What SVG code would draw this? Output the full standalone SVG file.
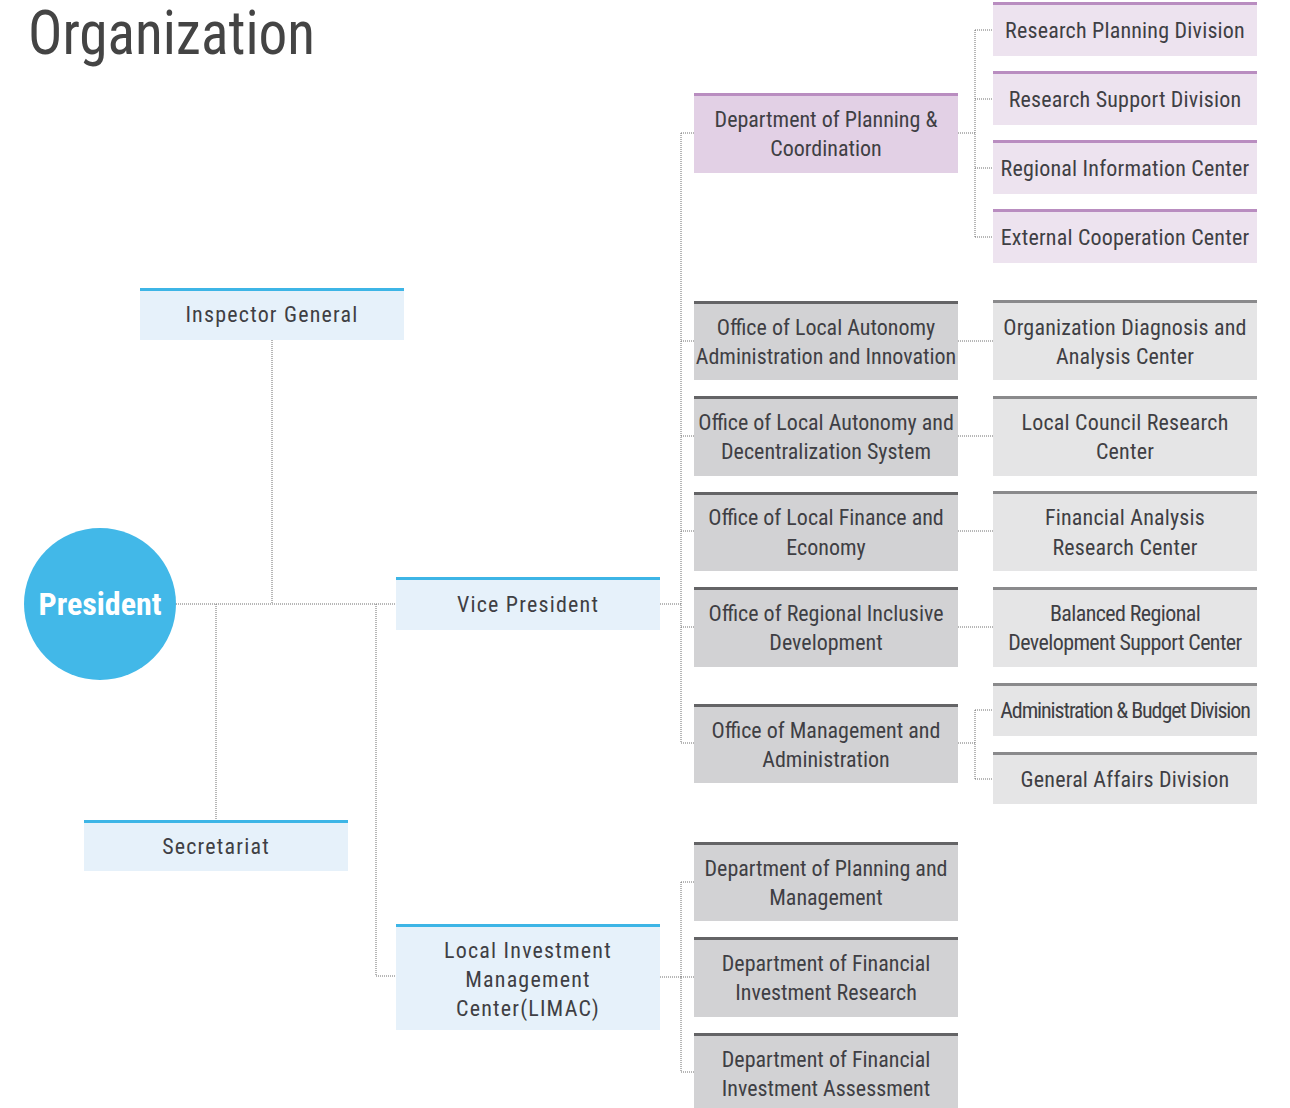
<svg xmlns="http://www.w3.org/2000/svg" width="1290" height="1108" viewBox="0 0 1290 1108">
<style>
text{font-family:"Liberation Sans Narrow","Roboto Condensed","Liberation Sans",sans-serif;fill:#3f3f44;text-anchor:middle;font-size:22px}
.title{font-size:62px;text-anchor:start;fill:#444}
.pres{font-size:32px;font-weight:bold;fill:#fff}
.blue{fill:#e6f1fa}
.bluetop{fill:#3db5e6}
.pm{fill:#e2d0e5}
.pl{fill:#ede3ef}
.ptop{fill:#b98dc0}
.gm{fill:#d2d2d4}
.gmtop{fill:#646466}
.gl{fill:#e5e5e6}
.gltop{fill:#8a8a8c}
.sp{letter-spacing:1.2px}
.rs{letter-spacing:0.2px}
.cd{letter-spacing:-0.6px}
.cd2{letter-spacing:-1.1px}
#connectors path{fill:none;stroke:#6e6e6e;stroke-width:1;stroke-dasharray:1 1}
</style>
<text class="title" x="28" y="54" textLength="287" lengthAdjust="spacingAndGlyphs">Organization</text>
<g id="connectors">
<path d="M176 604H396"/>
<path d="M272 340V604"/>
<path d="M216 604V820"/>
<path d="M376 604V976H396"/>
<path d="M660 604H681"/>
<path d="M681 133V743"/>
<path d="M681 133H694M681 341H694M681 436H694M681 531H694M681 627H694M681 743H694"/>
<path d="M958 133H975M975 30V237M975 30H993M975 99H993M975 168H993M975 237H993"/>
<path d="M958 341H993M958 436H993M958 531H993M958 627H993"/>
<path d="M958 743H975M975 710V779M975 710H993M975 779H993"/>
<path d="M660 977H681M681 882V1072M681 882H694M681 977H694M681 1072H694"/>
</g>
<g id="president"><circle cx="100" cy="604" r="76" fill="#42b8e8"/><text class="pres" x="100" y="615">President</text></g>
<g id="inspector"><rect class="blue" x="140" y="288" width="264" height="52"/><rect class="bluetop" x="140" y="288" width="264" height="3"/><text class="sp" x="272" y="322">Inspector General</text></g>
<g id="secretariat"><rect class="blue" x="84" y="820" width="264" height="51"/><rect class="bluetop" x="84" y="820" width="264" height="3"/><text class="sp" x="216" y="854">Secretariat</text></g>
<g id="vp"><rect class="blue" x="396" y="577" width="264" height="53"/><rect class="bluetop" x="396" y="577" width="264" height="3"/><text class="sp" x="528" y="612">Vice President</text></g>
<g id="limac"><rect class="blue" x="396" y="924" width="264" height="106"/><rect class="bluetop" x="396" y="924" width="264" height="3"/><text class="sp" x="528" y="958">Local Investment</text><text class="sp" x="528" y="987">Management</text><text class="sp" x="528" y="1016">Center(LIMAC)</text></g>
<g id="dpc"><rect class="pm" x="694" y="93" width="264" height="80"/><rect class="ptop" x="694" y="93" width="264" height="3"/><text x="826" y="127">Department of Planning &amp;</text><text x="826" y="156">Coordination</text></g>
<g id="olaai"><rect class="gm" x="694" y="301" width="264" height="79"/><rect class="gmtop" x="694" y="301" width="264" height="3"/><text x="826" y="335">Office of Local Autonomy</text><text x="826" y="364">Administration and Innovation</text></g>
<g id="oladc"><rect class="gm" x="694" y="396" width="264" height="80"/><rect class="gmtop" x="694" y="396" width="264" height="3"/><text x="826" y="430">Office of Local Autonomy and</text><text x="826" y="459">Decentralization System</text></g>
<g id="olfe"><rect class="gm" x="694" y="492" width="264" height="79"/><rect class="gmtop" x="694" y="492" width="264" height="3"/><text x="826" y="525">Office of Local Finance and</text><text x="826" y="555">Economy</text></g>
<g id="orid"><rect class="gm" x="694" y="587" width="264" height="80"/><rect class="gmtop" x="694" y="587" width="264" height="3"/><text x="826" y="621">Office of Regional Inclusive</text><text x="826" y="650">Development</text></g>
<g id="oma"><rect class="gm" x="694" y="704" width="264" height="79"/><rect class="gmtop" x="694" y="704" width="264" height="3"/><text x="826" y="738">Office of Management and</text><text x="826" y="767">Administration</text></g>
<g id="dpm"><rect class="gm" x="694" y="842" width="264" height="79"/><rect class="gmtop" x="694" y="842" width="264" height="3"/><text x="826" y="876">Department of Planning and</text><text x="826" y="905">Management</text></g>
<g id="dfir"><rect class="gm" x="694" y="937" width="264" height="80"/><rect class="gmtop" x="694" y="937" width="264" height="3"/><text x="826" y="971">Department of Financial</text><text x="826" y="1000">Investment Research</text></g>
<g id="dfia"><rect class="gm" x="694" y="1033" width="264" height="75"/><rect class="gmtop" x="694" y="1033" width="264" height="3"/><text x="826" y="1067">Department of Financial</text><text x="826" y="1096">Investment Assessment</text></g>
<g id="rpd"><rect class="pl" x="993" y="2" width="264" height="54"/><rect class="ptop" x="993" y="2" width="264" height="3"/><text class="rs" x="1125" y="38">Research Planning Division</text></g>
<g id="rsd"><rect class="pl" x="993" y="71" width="264" height="54"/><rect class="ptop" x="993" y="71" width="264" height="3"/><text class="rs" x="1125" y="107">Research Support Division</text></g>
<g id="ric"><rect class="pl" x="993" y="140" width="264" height="54"/><rect class="ptop" x="993" y="140" width="264" height="3"/><text class="rs" x="1125" y="176">Regional Information Center</text></g>
<g id="ecc"><rect class="pl" x="993" y="209" width="264" height="54"/><rect class="ptop" x="993" y="209" width="264" height="3"/><text class="rs" x="1125" y="245">External Cooperation Center</text></g>
<g id="odac"><rect class="gl" x="993" y="300" width="264" height="80"/><rect class="gltop" x="993" y="300" width="264" height="3"/><text class="rs" x="1125" y="335">Organization Diagnosis and</text><text class="rs" x="1125" y="364">Analysis Center</text></g>
<g id="lcrc"><rect class="gl" x="993" y="396" width="264" height="80"/><rect class="gltop" x="993" y="396" width="264" height="3"/><text class="rs" x="1125" y="430">Local Council Research</text><text class="rs" x="1125" y="459">Center</text></g>
<g id="farc"><rect class="gl" x="993" y="491" width="264" height="80"/><rect class="gltop" x="993" y="491" width="264" height="3"/><text class="rs" x="1125" y="525">Financial Analysis</text><text class="rs" x="1125" y="555">Research Center</text></g>
<g id="brdsc"><rect class="gl" x="993" y="587" width="264" height="80"/><rect class="gltop" x="993" y="587" width="264" height="3"/><text class="cd" x="1125" y="621">Balanced Regional</text><text class="cd" x="1125" y="650">Development Support Center</text></g>
<g id="abd"><rect class="gl" x="993" y="683" width="264" height="53"/><rect class="gltop" x="993" y="683" width="264" height="3"/><text class="cd2" x="1125" y="718">Administration &amp; Budget Division</text></g>
<g id="gad"><rect class="gl" x="993" y="752" width="264" height="52"/><rect class="gltop" x="993" y="752" width="264" height="3"/><text class="rs" x="1125" y="787">General Affairs Division</text></g>
</svg>
